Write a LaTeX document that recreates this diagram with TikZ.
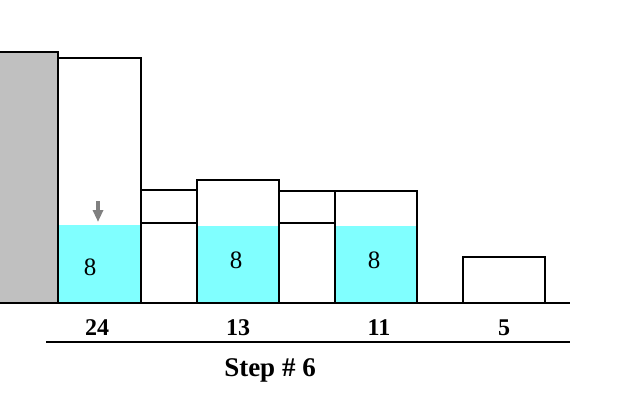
\documentclass[tikz,border=0pt]{standalone}
\usepackage{fontspec}
\setmainfont{Liberation Serif}
\usetikzlibrary{arrows.meta}
\definecolor{water}{RGB}{128,255,255}
\definecolor{wall}{RGB}{192,192,192}
\definecolor{drop}{RGB}{128,128,128}
\begin{document}
\begin{tikzpicture}[x=0.5pt, y=-0.5pt, line width=1pt]
            \useasboundingbox (0, 0) rectangle (619, 392);

            \fill[wall] (0, 52) rectangle (58, 303);
            \draw (0, 52) -- (58, 52) -- (58, 303);

            \fill[water] (58, 225) rectangle (141, 303);
            \fill[water] (197, 226) rectangle (279, 303);
            \fill[water] (335, 226) rectangle (417, 303);

            \draw (58, 303) rectangle (141, 58);
            \draw (141, 303) rectangle (197, 190);
            \draw (141, 223) -- (197, 223);
            \draw (197, 303) rectangle (279, 180);
            \draw (279, 303) rectangle (335, 191);
            \draw (279, 223) -- (335, 223);
            \draw (335, 303) rectangle (417, 191);
            \draw (463, 303) rectangle (545, 257);

            \draw (0, 303) -- (570, 303);
            \draw (46, 342) -- (570, 342);

            \draw[drop, line width=2pt, -{Triangle[width=5pt, length=6pt]}] (98, 201) -- (98, 222);

            \node[font=\fontsize{12.5}{14}\selectfont] (w1) at (90, 267) {8};
            \node[font=\fontsize{12.5}{14}\selectfont] (w2) at (236, 260) {8};
            \node[font=\fontsize{12.5}{14}\selectfont] (w3) at (374, 260) {8};

            \node[font=\fontsize{12}{14}\selectfont\bfseries] (h1) at (97, 328) {24};
            \node[font=\fontsize{12}{14}\selectfont\bfseries] (h2) at (238, 328) {13};
            \node[font=\fontsize{12}{14}\selectfont\bfseries] (h3) at (379, 328) {11};
            \node[font=\fontsize{12}{14}\selectfont\bfseries] (h4) at (504, 328) {5};

            \node[font=\fontsize{13.5}{16}\selectfont\bfseries] (step) at (270, 370) {Step \# 6};

        \end{tikzpicture}
\end{document}
